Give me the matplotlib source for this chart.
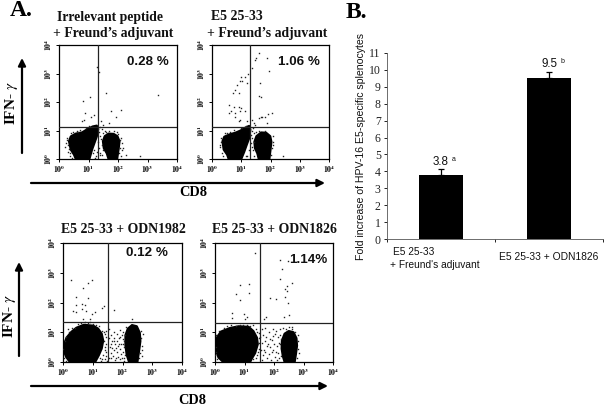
import numpy as np
import matplotlib
matplotlib.use("Agg")
import matplotlib.pyplot as plt

W, H = 609, 411
SERIF = "Liberation Serif"
SANS = "Liberation Sans"
plt.rcParams["mathtext.fontset"] = "stix"

# --- Panel A: flow-cytometry panels, all values in log10 decades (x, y) ---
p1_left = [(.34,.62),(.40,.79),(.57,.89),(.78,.93),(.97,1.05),(1.14,1.14),(1.28,1.17),(1.33,1.05),(1.28,.79),(1.2,.56),
           (1.12,.33),(1.03,0),(.57,0),(.51,.15),(.4,.33)]
p1_right = [(1.49,.62),(1.55,.8),(1.68,.89),(1.85,.88),(1.98,.8),(2.05,.62),(2.02,.35),(1.97,0),(1.68,0),(1.62,.2),(1.52,.38)]
p1_dots = [(1.28,3.24),(1.37,3.07),(.80,2.02),(1.05,2.17),(1.60,2.33),(3.37,2.23),(2.11,1.73),(1.75,1.67),
           (.89,1.61),(1.20,1.55),(1.09,1.47),(.86,1.38),(.78,1.32),(1.43,1.32),(1.71,1.26),(1.92,1.46),
           (1.49,1.20),(2.17,.38),(2.74,.09),(2.26,.15),(.25,.55),(.22,.42),(.3,.25),(.36,.12),(.45,.05),
           (.6,.98),(.7,1.02),(.9,1.08),(1.0,1.15),(1.35,.95),(1.4,.8),(1.33,.6),(1.37,.4),(1.3,.25),(1.25,.1),
           (1.45,1.05),(1.55,1),(1.7,.98),(1.85,1),(2.0,.88),(2.1,.75),(2.12,.55),(2.08,.4),(2.05,.2),(2.1,.1),
           (1.4,.15),(1.45,.5),(1.42,.7),(.28,.75),(.33,.35),(.42,.9),(1.2,.3),(1.15,.2),(1.48,.3),(1.6,.95),(1.95,.95),
           (.27,.65),(.3,.48),(.38,.22),(.48,.95),(.65,.95),(1.38,1.12),(1.5,.9),(1.38,.2),(1.22,.05),(1.46,.15),(2.08,.65),(2.15,.3)]

p2_left = [(.36,.62),(.42,.78),(.62,.87),(.8,.92),(.98,1.0),(1.14,1.1),(1.27,1.16),(1.31,1.03),(1.27,.73),(1.18,.48),
           (1.1,.25),(1,0),(.57,0),(.52,.15),(.4,.33)]
p2_right = [(1.45,.6),(1.52,.8),(1.68,.93),(1.85,.92),(1.99,.8),(2.03,.6),(2,.33),(1.96,0),(1.6,0),(1.55,.2),(1.47,.38)]
p2_dots = [(1.6,3.71),(1.52,3.53),(1.46,3.47),(1.88,3.53),(1.37,3.18),(1.94,3.1),(1.23,3.0),(1.14,2.89),(1,2.89),
           (.97,2.72),(1.03,2.72),(.85,2.6),(.72,2.31),(.91,2.31),(1.2,2.66),(.8,2.43),(1.63,2.66),(1.6,2.2),(1.69,2.19),
           (.57,1.9),(.74,1.84),(.91,1.84),(.66,1.7),(.77,1.63),(1,1.78),(.97,1.67),(.57,1.61),(1.14,1.7),(.77,1.49),
           (.91,1.32),(.97,1.38),(1.2,1.32),(1.37,1.38),(1.42,1.26),(1.6,1.43),(1.7,1.49),(1.82,1.47),(1.67,1.47),
           (2.05,1.63),(1.91,1.59),(1.48,1.2),(1.88,1.26),(2.42,.09),(.3,.6),(.28,.42),(.33,.22),(.38,.1),(.5,.9),
           (.75,1.03),(1,1.08),(1.15,1.17),(1.35,.85),(1.32,.55),(1.25,.3),(1.15,.12),(1.4,1.08),(1.42,.6),(1.4,.3),
           (1.42,.9),(1.6,.98),(1.8,.98),(2.07,.6),(2.05,.4),(2.03,.15),(1.44,.1),(2.08,.8),
           (.32,.72),(.27,.5),(.45,.92),(.62,.95),(1.36,.98),(1.38,.72),(1.36,.42),(1.2,.1),(1.5,.95),(2.1,.5)]

p3_left = [(.02,.56),(.12,.82),(.28,1.01),(.45,1.15),(.7,1.25),(1.02,1.22),(1.18,1.12),(1.3,.95),(1.35,.72),(1.3,.45),
           (1.2,.22),(1.08,0),(.23,0),(.1,.18),(.04,.35)]
p3_right = [(2.1,.9),(2.18,1.12),(2.32,1.24),(2.48,1.2),(2.58,.98),(2.6,.7),(2.56,.4),(2.5,0),(2.22,0),(2.14,.25),(2.1,.56)]
p3_dots = [(.28,2.74),(.85,2.67),(.97,2.74),(.68,2.5),(.45,2.2),(.85,2.16),(.63,1.94),(.74,1.92),(.45,1.92),(1.39,1.89),
           (.34,1.71),(.45,1.67),(.63,1.78),(.77,1.71),(1.08,1.69),(1.73,1.75),(1.31,1.8),(.68,1.46),(.91,1.46),(2.33,1.44),(.97,1.63),
           (.75,1.33),(.85,1.3),(1.0,1.28),(1.1,1.25),(.4,1.15),(.2,1.0),(.1,.85),(1.3,1.05),(1.4,.95),(1.38,.7),(1.42,.5),(1.35,.25),(1.4,.1),(1.25,.15),
           (1.55,1.1),(1.6,.9),(1.65,.7),(1.58,.5),(1.6,.3),(1.56,.12),(1.7,1.0),(1.72,.8),(1.75,.6),(1.7,.42),(1.68,.2),(1.74,.08),
           (1.8,.95),(1.82,.72),(1.85,.55),(1.8,.35),(1.86,.18),(1.9,1.08),(1.92,.85),(1.95,.62),(1.9,.45),(1.96,.28),(1.93,.1),
           (2.0,1.0),(2.02,.78),(2.05,.5),(2.0,.32),(2.04,.15),(2.08,.9),(2.07,.25),(2.05,.05),(1.62,.62),(1.78,.48),(1.88,.82),
           (2.62,.8),(2.65,.55),(2.6,.3),(2.62,1.05),(2.55,.15),(2.7,.95),(2.12,1.18),(1.98,.12),
           (1.44,1.05),(1.46,.85),(1.45,.62),(1.44,.35),(1.46,.2),(1.48,.05),(1.38,1.0),(1.4,.4),(1.32,.1),(1.28,.05),
           (.18,1.12),(.3,1.15),(.52,1.28),(.62,1.32),(.9,1.33),(1.2,1.2),(.06,.72),(.0,.45),(.03,.12),(.1,.03),
           (1.53,.82),(1.66,.48),(1.62,.12),(1.78,.15),(1.7,.72),(1.88,.62),(2.02,.62),(1.98,.9),(2.06,.7),(2.64,.4),(2.66,.2)]

p4_left = [(.02,.63),(.08,.85),(.2,1.02),(.5,1.14),(.8,1.2),(1.14,1.18),(1.3,1.04),(1.42,.82),(1.45,.6),(1.36,.3),
           (1.25,.12),(1.19,0),(.28,0),(.12,.15),(.05,.35)]
p4_right = [(2.27,.72),(2.36,.95),(2.5,1.04),(2.66,1.0),(2.76,.8),(2.78,.55),(2.74,.25),(2.7,0),(2.36,0),(2.3,.2),(2.26,.45)]
p4_dots = [(1.34,3.66),(2.22,3.43),(2.48,3.39),(2.27,3.14),(2.22,2.8),(.85,2.59),(1.16,2.61),(2.61,2.65),(2.44,2.57),(2.36,2.46),
           (2.44,2.4),(.72,2.29),(1.16,2.31),(.85,2.08),(1.85,2.15),(2.08,2.11),(2.48,2),(2.36,2.2),(.59,1.66),(.99,1.6),(.57,1.49),
           (1.08,1.51),(1.74,1.52),(1.67,1.43),(2.33,1.51),(2.52,1.57),(1,1.43),
           (.4,1.22),(.7,1.2),(.95,1.25),(1.2,1.22),(1.3,1.25),(1.42,1.0),(1.48,.8),(1.5,.45),(1.42,.25),(1.3,.1),(.05,.9),(.04,.35),
           (1.58,1.1),(1.62,.9),(1.6,.65),(1.56,.42),(1.62,.22),(1.58,.06),(1.7,1.15),(1.72,.85),(1.75,.55),(1.7,.35),(1.76,.12),
           (1.82,1.02),(1.85,.78),(1.88,.5),(1.84,.28),(1.9,.08),(1.95,1.1),(1.98,.88),(2.0,.62),(1.96,.4),(2.02,.18),
           (2.08,1.05),(2.12,.85),(2.1,.55),(2.15,.3),(2.1,.08),(2.2,1.12),(2.22,.9),(2.2,.6),(2.24,.2),(2.3,1.15),(2.4,1.12),(2.5,1.18),
           (2.6,1.1),(2.72,1.02),(2.82,.7),(2.8,.45),(2.78,.15),(1.68,.72),(1.92,.32),(2.05,.95),
           (.14,1.05),(.3,1.14),(.55,1.24),(.85,1.26),(1.1,1.25),(1.38,1.1),(1.48,.98),(1.5,.65),(1.46,.32),(1.4,.12),(.02,.5),(.0,.25),(.06,.1),
           (1.54,.85),(1.66,.4),(1.8,.6),(1.92,.75),(2.06,.35),(2.16,.65),(2.18,.12),(2.24,.78),(2.84,.3),(2.82,.9),(2.62,1.16)]

panel_titles = ["Irrelevant peptide", "E5 25-33", "E5 25-33 + ODN1982", "E5 25-33 + ODN1826"]
panel_sub = "+ Freund\u2019s adjuvant"
panel_percents = ["0.28 %", "1.06 %", "0.12 %", "1.14%"]

# --- Panel B ---
bar_categories = ["E5 25-33\n+ Freund's adjuvant", "E5 25-33 + ODN1826"]
bar_values = [3.8, 9.5]
bar_errors = [0.33, 0.4]
bar_letters = ["a", "b"]
bar_yticks = list(range(0, 12))

fig = plt.figure(figsize=(W / 100, H / 100), dpi=100, facecolor="white")


def axes_px(x0, y0, x1, y1):
    return fig.add_axes([x0 / W, 1 - y1 / H, (x1 - x0) / W, (y1 - y0) / H])


def ftext(x, y, s, **kw):
    kw.setdefault("ha", "center")
    kw.setdefault("va", "center")
    return fig.text(x / W, 1 - y / H, s, **kw)


def arrow(x0, y0, x1, y1):
    fig.add_artist(matplotlib.patches.FancyArrowPatch(
        (x0 / W, 1 - y0 / H), (x1 / W, 1 - y1 / H), transform=fig.transFigure,
        arrowstyle="-|>,head_length=2.2,head_width=1.1", lw=1.6, color="black",
        shrinkA=0, shrinkB=0, mutation_scale=2.0))


def flow_panel(box, cross, left, right, dots, pct, pct_xy):
    ax = axes_px(*box)
    ax.set_xscale("log")
    ax.set_yscale("log")
    ax.set_xlim(1, 1e4)
    ax.set_ylim(1, 1e4)
    for poly in (left, right):
        a = np.array(poly)
        ax.fill(10 ** a[:, 0], 10 ** a[:, 1], color="black", lw=1.6, joinstyle="round", zorder=2)
    d = np.array(dots)
    ax.plot(10 ** d[:, 0], 10 ** d[:, 1], ls="none", marker="s", ms=1.0, mew=0, color="#222222", zorder=3)
    ax.axvline(10 ** cross[0], color="#222222", lw=0.9, zorder=4)
    ax.axhline(10 ** cross[1], color="#222222", lw=0.9, zorder=4)
    for s in ax.spines.values():
        s.set_linewidth(0.9)
    ax.set_xticks([1, 10, 100, 1000, 10000])
    ax.set_yticks([1, 10, 100, 1000, 10000])
    ax.set_xticklabels(["$\\mathbf{10^{%d}}$" % i for i in range(5)], fontsize=5.5, fontfamily=SANS)
    ax.set_yticklabels(["$\\mathbf{10^{%d}}$" % i for i in range(5)], fontsize=5.5, fontfamily=SANS,
                       rotation=90, va="center")
    ax.tick_params(which="major", length=2.5, width=0.7, pad=1)
    ax.tick_params(which="minor", length=1.3, width=0.4)
    ftext(*pct_xy, pct, family=SANS, weight="bold", fontsize=9.6, color="#111111")
    return ax


flow_panel((59, 45, 177, 159), (1.31, 1.11), p1_left, p1_right, p1_dots, panel_percents[0], (148, 62))
flow_panel((212, 45, 329, 159), (1.31, 1.11), p2_left, p2_right, p2_dots, panel_percents[1], (299, 62))
flow_panel((63, 243, 182, 362), (1.5, 1.35), p3_left, p3_right, p3_dots, panel_percents[2], (147, 253))
flow_panel((215, 243, 333, 362), (1.53, 1.31), p4_left, p4_right, p4_dots, panel_percents[3], (308, 260))

title_kw = dict(family=SERIF, weight="bold", fontsize=9.9, color="#111111")
ftext(110, 17, panel_titles[0], **title_kw)
ftext(113, 33, panel_sub, **title_kw)
ftext(211, 17, panel_titles[1], ha="left", **title_kw)
ftext(267, 33, panel_sub, **title_kw)
ftext(123, 229, panel_titles[2], **title_kw)
ftext(274, 229, panel_titles[3], **title_kw)

ftext(21, 11, "A.", family=SERIF, weight="bold", fontsize=17)
ftext(356, 13, "B.", family=SERIF, weight="bold", fontsize=17)

ftext(193, 192, "CD8", family=SERIF, weight="bold", fontsize=10.3)
ftext(192, 400, "CD8", family=SERIF, weight="bold", fontsize=10.3)
ftext(11, 103, "IFN- $\\gamma$", family=SERIF, weight="bold", fontsize=11, rotation=90)
ftext(10, 316, "IFN- $\\gamma$", family=SERIF, weight="bold", fontsize=11, rotation=90)

arrow(31, 183, 325, 183)
arrow(22, 153, 22, 58)
arrow(31, 386, 328, 386)
arrow(19, 356, 19, 262)

# Bar chart
axb = axes_px(387, 53, 603, 239)
xpos = np.arange(len(bar_values))
axb.bar(xpos, bar_values, width=0.41, color="black", zorder=2)
axb.errorbar(xpos, bar_values, yerr=[[0, 0], bar_errors], fmt="none", ecolor="black", elinewidth=0.9,
             capsize=2.4, capthick=0.9, zorder=3)
axb.set_xlim(-0.5, 1.5)
axb.set_ylim(0, 11)
axb.set_yticks(bar_yticks)
axb.set_yticklabels([str(v) for v in bar_yticks], family=SERIF, fontsize=8.5, color="#222222")
axb.set_xticks([-0.5, 0.5, 1.5])
axb.set_xticklabels([])
axb.tick_params(axis="y", length=2.5, width=0.6, pad=2)
axb.tick_params(axis="x", length=2.5, width=0.6)
axb.spines["top"].set_visible(False)
axb.spines["right"].set_visible(False)
for side in ("left", "bottom"):
    axb.spines[side].set_linewidth(0.6)
    axb.spines[side].set_color("#555555")

for x, v, e, lt in zip(xpos, bar_values, bar_errors, bar_letters):
    axb.annotate(f"{v}", (x, v + e), xytext=(0, 1.0), textcoords="offset points", ha="center", va="bottom",
                 family=SANS, fontsize=8.4, color="#111111")
    axb.annotate(lt, (x, v + e), xytext=(9.4, 4.5), textcoords="offset points", ha="center", va="bottom",
                 family=SANS, fontsize=5, color="#111111")

ftext(361, 147, "Fold increase of HPV-16 E5-specific splenocytes", family=SANS, fontsize=7.55,
      rotation=90, color="#111111")
first, second = bar_categories[0].split("\n")
ftext(393, 252, first, ha="left", family=SANS, fontsize=7.3, color="#111111")
ftext(390, 265, second, ha="left", family=SANS, fontsize=7.3, color="#111111")
ftext(549, 257, bar_categories[1], family=SANS, fontsize=7.4, color="#111111")

fig.savefig("out.png", dpi=100)
